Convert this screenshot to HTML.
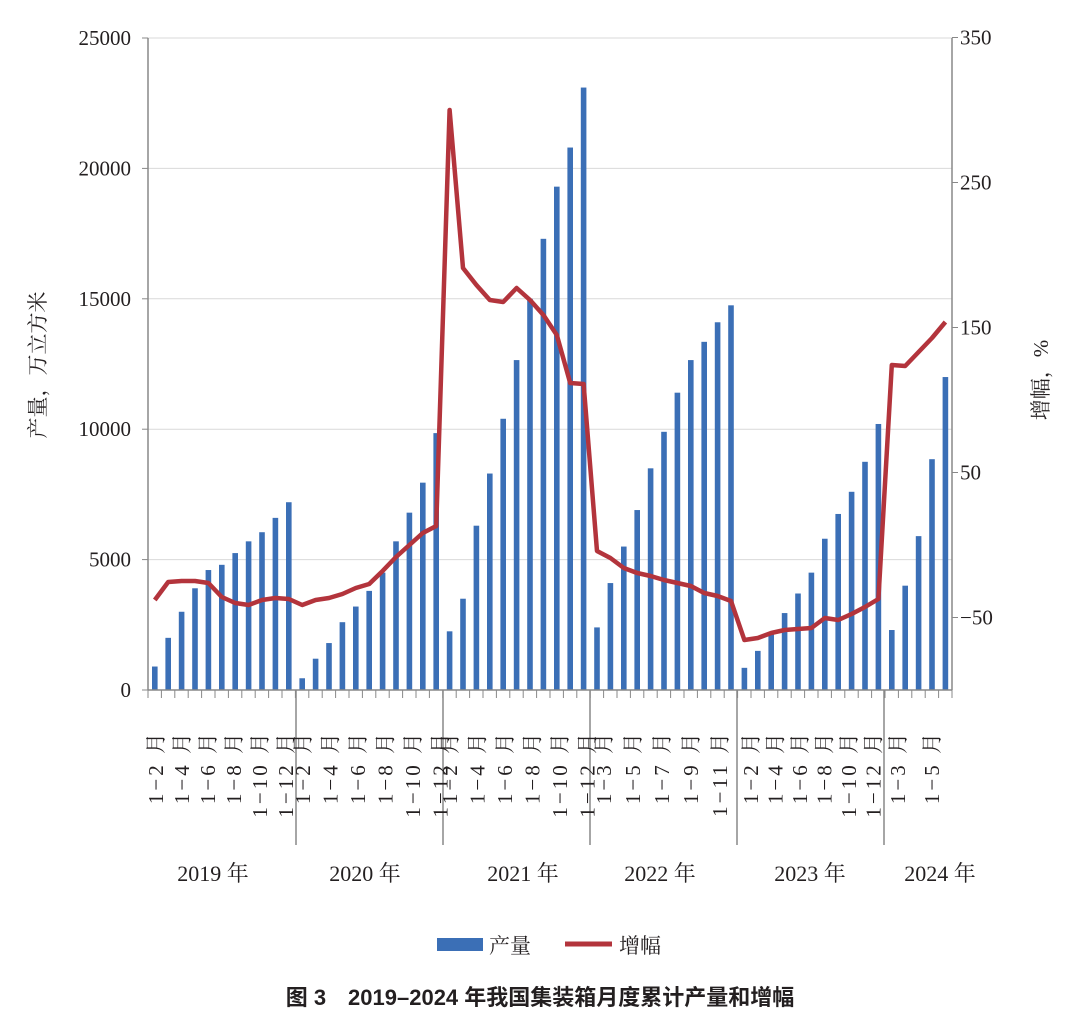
<!DOCTYPE html>
<html><head><meta charset="utf-8"><style>
body{margin:0;background:#fff;}
svg text{font-family:"Liberation Serif","Noto Serif CJK SC",serif;fill:#231f20;}
</style></head><body>
<svg id="s" width="1080" height="1030" xmlns="http://www.w3.org/2000/svg"></svg>
<script>
const s=document.getElementById('s');let h='';
const Y=v=>690-v*0.02608;
for(let v=0;v<=25000;v+=5000){h+=`<line x1="148" x2="952" y1="${Y(v)}" y2="${Y(v)}" stroke="#d9d9d9" stroke-width="1"/>`;
h+=`<text x="131" y="${Y(v)+7}" font-size="21" text-anchor="end">${v}</text>`;
h+=`<line x1="142" x2="148" y1="${Y(v)}" y2="${Y(v)}" stroke="#888"/>`;}
[350,250,150,50,-50].forEach(v=>{const y=690-(v+100)*1.45;h+=`<text x="960" y="${y+7}" font-size="21">${v<0?'−'+(-v):v}</text>`;h+=`<line x1="952" x2="958" y1="${y}" y2="${y}" stroke="#888"/>`;});
h+=`<line x1="148" x2="148" y1="38" y2="690" stroke="#888" stroke-width="1.5"/><line x1="952" x2="952" y1="38" y2="690" stroke="#888" stroke-width="1.5"/>`;
const bars=[900,2000,3000,3900,4600,4800,5250,5700,6050,6600,7200,
450,1200,1800,2600,3200,3800,4500,5700,6800,7950,9850,
2250,3500,6300,8300,10400,12650,15000,17300,19300,20800,23100,
2400,4100,5500,6900,8500,9900,11400,12650,13350,14100,14750,
850,1500,2200,2950,3700,4500,5800,6750,7600,8750,10200,
2300,4000,5900,8850,12000];
const line=[600,582,581,581,583,597,603,605,600,598,599,
605,600,598,594,588,584,571,557,545,533,526,
110,268,285,300,302,288,300,315,335,383,384,
551,558,568,573,576,580,583,586,593,596,601,
640,638,633,630,629,628,618,620,614,607,599,
365,366,352,338,322];
const X=i=>154.8+i*13.4;
bars.forEach((v,i)=>{h+=`<rect x="${X(i)-2.8}" y="${Y(v)}" width="5.6" height="${690-Y(v)}" fill="#3b6fb6"/>`;});
h+=`<line x1="148" x2="952" y1="690" y2="690" stroke="#888" stroke-width="1.5"/>`;
for(let i=0;i<=60;i++){const x=148+i*13.4;h+=`<line x1="${x}" x2="${x}" y1="690" y2="698" stroke="#888"/>`;}
[296,443,590,737,884].forEach(x=>h+=`<line x1="${x}" x2="${x}" y1="690" y2="845" stroke="#888" stroke-width="1.5"/>`);
h+=`<polyline fill="none" stroke="#b3343c" stroke-width="4.5" stroke-linejoin="round" points="${line.map((y,i)=>X(i)+','+y).join(' ')}"/>`;
const L=[];
const ev=['1−2','1−4','1−6','1−8','1−10','1−12'];
[[156,26],[303,27.5],[450,27.5]].forEach(([x0,d])=>ev.forEach((t,j)=>L.push([x0+j*d,t])));
['1−3','1−5','1−7','1−9','1−11'].forEach((t,j)=>L.push([604+j*29,t]));
ev.forEach((t,j)=>L.push([751+j*24.5,t]));
L.push([898,'1−3'],[932,'1−5']);
L.forEach(([x,t])=>h+=`<text transform="translate(${x+7},730) rotate(-90)" font-size="21" letter-spacing="3" text-anchor="end">${t} 月</text>`);
[[213,'2019'],[365,'2020'],[523,'2021'],[660,'2022'],[810,'2023'],[940,'2024']].forEach(([x,t])=>h+=`<text x="${x}" y="881" font-size="22" text-anchor="middle">${t} 年</text>`);
h+=`<text transform="translate(45,365) rotate(-90)" font-size="21" text-anchor="middle">产量，万立方米</text>`;
h+=`<text transform="translate(1048,380) rotate(-90)" font-size="21" text-anchor="middle">增幅，%</text>`;
h+=`<rect x="437" y="938" width="46" height="13" fill="#3b6fb6"/><text x="489" y="953" font-size="21">产量</text>`;
h+=`<line x1="565" x2="612" y1="944" y2="944" stroke="#b3343c" stroke-width="5"/><text x="619" y="953" font-size="21">增幅</text>`;
h+=`<text x="540" y="1005" font-size="22" font-weight="bold" text-anchor="middle" style="font-family:'Liberation Sans','Noto Sans CJK SC',sans-serif">图 3　2019–2024 年我国集装箱月度累计产量和增幅</text>`;
s.innerHTML=h;
</script>
</body></html>
